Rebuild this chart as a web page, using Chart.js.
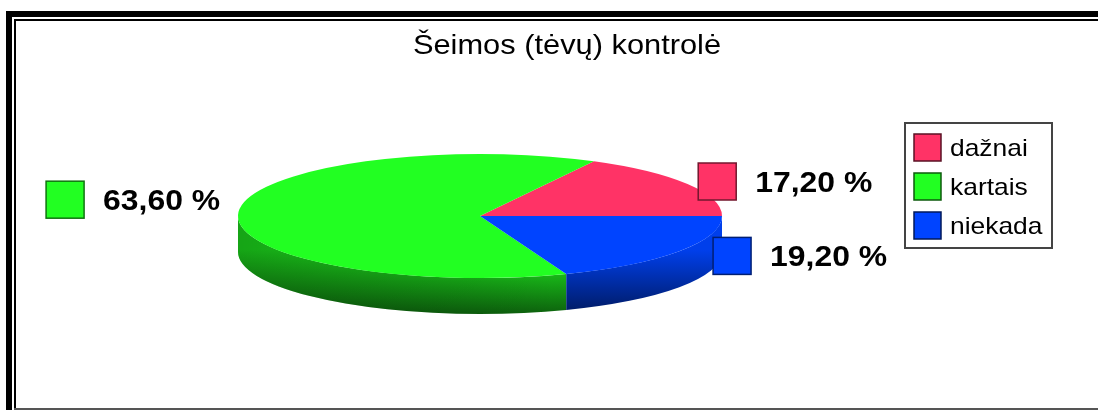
<!DOCTYPE html>
<html>
<head>
<meta charset="utf-8">
<title>Šeimos (tėvų) kontrolė</title>
<script src="https://cdn.jsdelivr.net/npm/chart.js@4.4.1/dist/chart.umd.min.js"></script>
<style>
  html, body { margin: 0; padding: 0; background: #fff; }
  #wrap { width: 1098px; height: 410px; }
</style>
</head>
<body>
<div id="wrap"><canvas id="pieChart" width="1098" height="410"></canvas></div>
<script>
const chartTitle = 'Šeimos (tėvų) kontrolė';
const categories = ['dažnai', 'kartais', 'niekada'];
const shares = [17.2, 63.6, 19.2];
const sliceColors = ['#ff3366', '#22ff22', '#0044ff'];

const FONT = '"Liberation Sans", Arial, sans-serif';
const STRETCH = 1.1;   // the original text is drawn a little wider than Arial
const RX = 242, RY = 62, DEPTH = 36;   // flattened pie: ellipse radii + thickness

function shade(hex, f) {
    const n = parseInt(hex.slice(1), 16);
    const r = Math.round(((n >> 16) & 255) * f);
    const g = Math.round(((n >> 8) & 255) * f);
    const b = Math.round((n & 255) * f);
    return `rgb(${r},${g},${b})`;
}

function wideText(ctx, str, x, y, font, align) {
    ctx.save();
    ctx.font = font;
    ctx.textAlign = align || 'left';
    ctx.textBaseline = 'alphabetic';
    ctx.fillStyle = '#000';
    ctx.translate(x, y);
    ctx.scale(STRETCH, 1);
    ctx.fillText(str, 0, 0);
    ctx.restore();
}

const pie3d = {
    id: 'pie3d',

    beforeDraw(chart) {
        const ctx = chart.ctx;
        const w = chart.width, h = chart.height;
        ctx.save();
        ctx.fillStyle = '#fff';
        ctx.fillRect(0, 0, w, h);
        // double frame, cut off at the right and bottom
        ctx.fillStyle = '#000';
        ctx.fillRect(6, 11, w, 6);
        ctx.fillRect(6, 11, 6, h);
        ctx.fillRect(14, 19, w, 2);
        ctx.fillRect(14, 19, 2, h);
        ctx.fillStyle = '#555';
        ctx.fillRect(14, 408, w, 2);
        ctx.restore();
    },

    beforeDatasetsDraw(chart) {
        const ctx = chart.ctx;
        const arcs = chart.getDatasetMeta(0).data;
        const { x: cx, y: cy, outerRadius: r } = arcs[0];
        const colors = chart.data.datasets[0].backgroundColor;

        // side wall: only the front half (screen angles 0..PI) shows
        arcs.forEach((arc, i) => {
            const a1 = -arc.endAngle, a2 = -arc.startAngle;
            for (let k = -1; k <= 1; k++) {
                const a = Math.max(a1 + 2 * Math.PI * k, 0);
                const b = Math.min(a2 + 2 * Math.PI * k, Math.PI);
                if (b <= a) continue;
                ctx.beginPath();
                ctx.ellipse(cx, cy, RX, RY, 0, a, b, false);
                ctx.ellipse(cx, cy + DEPTH, RX, RY, 0, b, a, true);
                ctx.closePath();
                const vg = ctx.createLinearGradient(0, cy + RY * 0.55, 0, cy + RY + DEPTH);
                vg.addColorStop(0, shade(colors[i], 0.92));
                vg.addColorStop(1, shade(colors[i], 0.38));
                ctx.fillStyle = vg;
                ctx.fill();
                const hg = ctx.createLinearGradient(cx - RX, 0, cx + RX * 0.3, 0);
                hg.addColorStop(0, 'rgba(0,0,0,0.3)');
                hg.addColorStop(1, 'rgba(0,0,0,0)');
                ctx.fillStyle = hg;
                ctx.fill();
            }
        });

        // squash (and mirror, so slices run counter-clockwise) the top face
        ctx.save();
        ctx.translate(cx, cy);
        ctx.scale(RX / r, -RY / r);
        ctx.translate(-cx, -cy);
    },

    afterDatasetsDraw(chart) {
        chart.ctx.restore();
    },

    afterDraw(chart) {
        const ctx = chart.ctx;
        const arcs = chart.getDatasetMeta(0).data;
        const { x: cx, y: cy } = arcs[0];
        const colors = chart.data.datasets[0].backgroundColor;
        const values = chart.data.datasets[0].data;
        const labelFont = 'bold 29px ' + FONT;

        // percentage labels with colour key, placed outside each slice
        arcs.forEach((arc, i) => {
            const mid = -(arc.startAngle + arc.endAngle) / 2;
            const c = Math.cos(mid), s = Math.sin(mid);
            const ax = cx + 4 + c * 263 + s * 22;
            const ay = cy - 5 + s * 69 + c * 7;
            const text = values[i].toFixed(2).replace('.', ',') + ' %';
            ctx.font = labelFont;
            const tw = ctx.measureText(text).width * STRETCH;
            const total = 38 + 19 + tw;
            const left = c < 0 ? ax - total : ax;

            ctx.save();
            ctx.fillStyle = colors[i];
            ctx.fillRect(left, ay - 18.5, 38, 37);
            ctx.strokeStyle = shade(colors[i], 0.45);
            ctx.lineWidth = 1.5;
            ctx.strokeRect(left, ay - 18.5, 38, 37);
            ctx.restore();
            wideText(ctx, text, left + 57, ay + 10.5, labelFont, 'left');
        });

        // legend
        ctx.save();
        ctx.strokeStyle = '#444';
        ctx.lineWidth = 2;
        ctx.strokeRect(905, 123, 147, 125);
        ctx.restore();
        chart.data.labels.forEach((label, i) => {
            const top = 134 + i * 39;
            ctx.save();
            ctx.fillStyle = colors[i];
            ctx.fillRect(914, top, 27, 27);
            ctx.strokeStyle = shade(colors[i], 0.35);
            ctx.lineWidth = 1.5;
            ctx.strokeRect(914, top, 27, 27);
            ctx.restore();
            wideText(ctx, label, 950, top + 21.5, '24px ' + FONT, 'left');
        });

        // title
        wideText(ctx, chartTitle, 567, 54, '28px ' + FONT, 'center');
    }
};

new Chart(document.getElementById('pieChart'), {
    type: 'pie',
    data: {
        labels: categories,
        datasets: [{
            data: shares,
            backgroundColor: sliceColors,
            borderWidth: 0,
            clip: false
        }]
    },
    options: {
        responsive: false,
        animation: false,
        events: [],
        rotation: 90,
        layout: {
            padding: { left: 340, right: 478, top: 76, bottom: 54 }
        },
        plugins: {
            legend: { display: false },
            title: { display: false },
            tooltip: { enabled: false }
        }
    },
    plugins: [pie3d]
});
</script>
</body>
</html>
